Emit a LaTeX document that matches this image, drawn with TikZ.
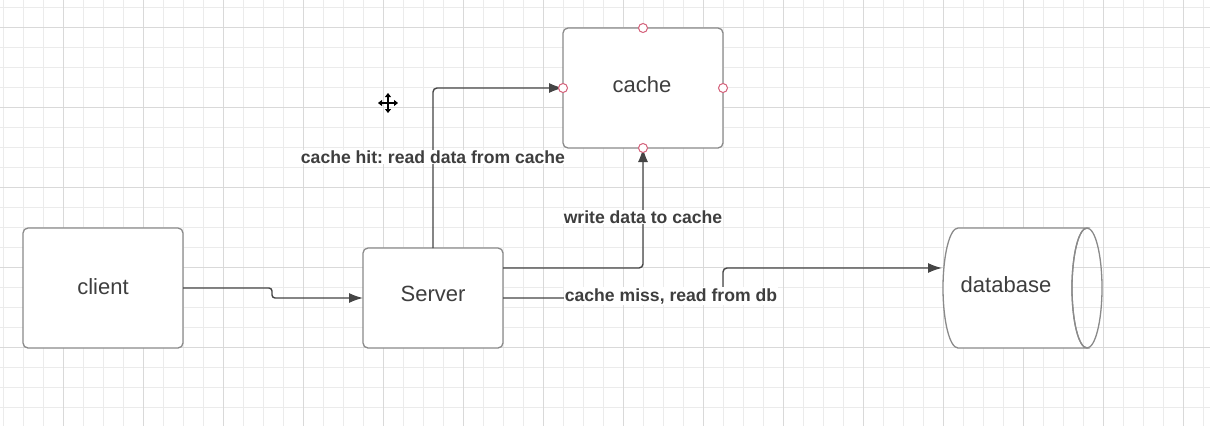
\documentclass[tikz,border=0pt]{standalone}
\usepackage{fontspec}
\setmainfont{Liberation Sans}
\usetikzlibrary{arrows.meta,calc}
\frenchspacing
\definecolor{gridminor}{HTML}{EBEBEB}
\definecolor{gridmajor}{HTML}{D9D9D9}
\definecolor{boxline}{HTML}{8A8A8A}
\definecolor{connline}{HTML}{454545}
\definecolor{txt}{HTML}{3E3E3E}
\definecolor{pin}{HTML}{D4607A}
\tikzset{
  box/.style={draw=boxline, line width=1.3pt, rounded corners=5pt, fill=white,
    inner sep=0pt, outer sep=0pt, text=txt, font=\fontsize{22}{26}\selectfont},
  conn/.style={draw=connline, line width=1.4pt, rounded corners=4pt,
    -{Latex[length=14pt,width=10pt]}},
  elabel/.style={fill=white, inner sep=1pt, text=txt,
    font=\bfseries\fontsize{17.6}{20}\selectfont},
  pinpt/.style={draw=pin, fill=white, line width=1pt},
  plaintxt/.style={text=txt, font=\fontsize{22}{26}\selectfont},
}
\begin{document}
\frenchspacing
\begin{tikzpicture}[x=1pt,y=-1pt]
\useasboundingbox (0,0) rectangle (1210,426);
\fill[white] (0,0) rectangle (1210,426);
% grid
\foreach \x in {3,23,...,1210} \draw[gridminor, line width=1pt] (\x,0) -- (\x,426);
\foreach \y in {7,27,...,426} \draw[gridminor, line width=1pt] (0,\y) -- (1210,\y);
\foreach \x in {63,143,...,1210} \draw[gridmajor, line width=1pt] (\x,0) -- (\x,426);
\foreach \y in {27,107,...,426} \draw[gridmajor, line width=1pt] (0,\y) -- (1210,\y);

% nodes
\node[box, minimum width=160pt, minimum height=120pt] (client) at (103,288) {};
\node[plaintxt] (clienttxt) at (103,287) {client};
\node[box, minimum width=140pt, minimum height=100pt] (server) at (433,298) {};
\node[plaintxt] (servertxt) at (433,294) {Server};
\node[box, minimum width=160pt, minimum height=120pt] (cache) at (643,88) {};
\node[plaintxt] (cachetxt) at (642,85) {cache};

% database cylinder
\node[minimum width=160pt, minimum height=120pt, inner sep=0pt, outer sep=0pt] (db) at (1022,288) {};
\filldraw[draw=boxline, fill=white, line width=1.3pt]
  (958,348) arc[start angle=90, end angle=270, x radius=15, y radius=60]
  -- (1087,228) arc[start angle=270, end angle=90, x radius=15, y radius=60] -- cycle;
\draw[boxline, line width=1.3pt] (1087,288) ellipse[x radius=15, y radius=60];
\node[plaintxt] (dbtxt) at (1006,285) {database};

% connectors
\draw[conn, rounded corners=3pt] (client.east) -- ++(89,0) -- ++(0,10) -- (server.west);
\draw[conn] (server.north) |- (cache.west);
\node[elabel] (lhit) at (433,157) {cache hit: read data from cache};
\draw[conn] ($(server.east)+(0,-30)$) -| (cache.south);
\node[elabel] (lwrite) at (643,217) {write data to cache};
\coordinate (dbin) at ($(db.west)+(0,-20)$);
\draw[conn] (server.east) -- (723,298) |- (dbin);
\node[elabel] (lmiss) at (671,296) {cache miss, read from db};

% connection points on cache
\foreach \a in {north,south,east,west}
  \filldraw[pinpt] (cache.\a) circle[radius=4.5];

% move cursor
\foreach \dx/\dy in {0/-10,0/10,-10/0,10/0}
  \draw[black, line width=1.8pt, -{Triangle[length=4pt,width=6pt]}] (388,103) -- ++(\dx,\dy);
\end{tikzpicture}
\end{document}
